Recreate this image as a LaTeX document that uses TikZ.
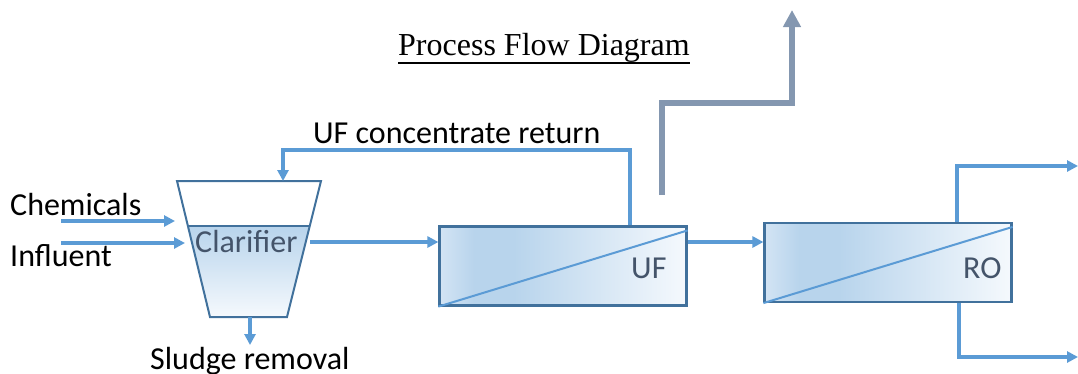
\documentclass[tikz,border=0pt]{standalone}
\usepackage{fontspec}
\setmainfont{Carlito}
\newfontfamily\titlefont{Liberation Serif}
\usetikzlibrary{arrows.meta}
\definecolor{pipeblue}{HTML}{5B9BD5}
\definecolor{edgeblue}{HTML}{41719C}
\definecolor{unitgray}{HTML}{44546A}
\definecolor{ventgray}{HTML}{8497B0}
\definecolor{shadeA}{HTML}{D3E4F4}
\definecolor{shadeB}{HTML}{B8D4EC}
\definecolor{shadeC}{HTML}{F5F9FD}
\newcommand{\pipecol}{pipeblue}
\pgfdeclarehorizontalshading{membrane}{100bp}{color(0bp)=(shadeA); color(25bp)=(shadeA);
  color(32bp)=(shadeB); color(40bp)=(shadeB); color(75bp)=(shadeC); color(100bp)=(shadeC)}
\tikzset{
  pipe/.style={draw=\pipecol, line width=3.4pt, -{Triangle[length=11pt,width=11pt]}},
  unitbox/.style={draw=edgeblue, line width=2.2pt, shading=membrane, minimum width=247pt,
    minimum height=79pt, inner sep=0pt},
  txt/.style={font=\fontsize{32}{36}\selectfont, inner sep=0pt},
  unitlabel/.style={txt, text=unitgray}
}

\begin{document}
\begin{tikzpicture}[x=1pt, y=-1pt]
    \useasboundingbox (0, 0) rectangle (1078, 373);

    % title
    \node[inner sep=0pt, font=\titlefont\fontsize{32}{36}\selectfont, anchor=base west] (title) at (398, 55) {Process Flow Diagram};
    \draw[line width=1.8pt] ([yshift=-8pt]title.base west) -- ([yshift=-8pt]title.base east);

    % clarifier
    \coordinate (clar-tl) at (177, 181);
    \coordinate (clar-tr) at (321, 181);
    \coordinate (clar-bl) at (210, 317);
    \coordinate (clar-br) at (287, 317);
    \coordinate (clar-wl) at (188, 226);
    \coordinate (clar-wr) at (310, 226);
    \coordinate (clar-top) at (283, 181);
    \coordinate (clar-out) at (250, 317);
    \shade[top color=shadeB, bottom color=shadeC] (clar-wl) -- (clar-wr) -- (clar-br) -- (clar-bl) -- cycle;
    \draw[draw=edgeblue, line width=2pt] (clar-wl) -- (clar-wr);
    \draw[draw=edgeblue, line width=2pt] (clar-tl) -- (clar-tr) -- (clar-br) -- (clar-bl) -- cycle;
    \node[unitlabel, anchor=base west] (clar) at (195, 252) {Clarifier};

    % membrane units
    \node[unitbox] (uf) at (563, 266) {};
    \node[unitbox] (ro) at (888, 262.5) {};
    \draw[draw=\pipecol, line width=2pt] (uf.south west) -- ([yshift=-5pt]uf.north east);
    \draw[draw=\pipecol, line width=2pt] (ro.south west) -- ([yshift=-5pt]ro.north east);
    \node[unitlabel, anchor=base west] (uflabel) at (631, 278) {UF};
    \node[unitlabel, anchor=base west] (rolabel) at (963, 278) {RO};

    % feeds
    \node[txt, anchor=base west] (chem) at (10, 215) {Chemicals};
    \node[txt, anchor=base west] (infl) at (10, 266) {Influent};
    \coordinate (chem-in) at (61, 221);
    \coordinate (infl-in) at (61, 243);
    \draw[pipe] (chem-in) -- (175, 221);
    \draw[pipe] (infl-in) -- (185, 243);

    % main line
    \draw[pipe] (310, 242) -- (uf.west |- 0, 242);
    \draw[pipe] (uf.east |- 0, 242) -- (ro.west |- 0, 242);

    % UF concentrate return
    \node[txt, anchor=base west] (ret) at (313, 143) {UF concentrate return};
    \draw[pipe] (uf.north -| 630, 0) -- (630, 150) -- (283, 150) -- (clar-top);

    % sludge
    \coordinate (sludge-end) at (250, 345);
    \draw[pipe] (clar-out) -- (sludge-end);
    \node[txt, anchor=base west] (sludge) at (150, 369) {Sludge removal};

    % RO outlets
    \coordinate (ro-up) at (1078, 166);
    \coordinate (ro-down) at (1078, 357);
    \draw[pipe] (ro.north -| 957, 0) -- (957, 166) -- (ro-up);
    \draw[pipe] (ro.south -| 959, 0) -- (959, 357) -- (ro-down);

    % vent
    \coordinate (vent-in) at (662, 195);
    \coordinate (vent-out) at (792, 10);
    \draw[draw=ventgray, line width=6pt, -{Triangle[length=17pt,width=17pt]}]
      (vent-in) -- (662, 103) -- (792, 103) -- (vent-out);
\end{tikzpicture}
\end{document}
